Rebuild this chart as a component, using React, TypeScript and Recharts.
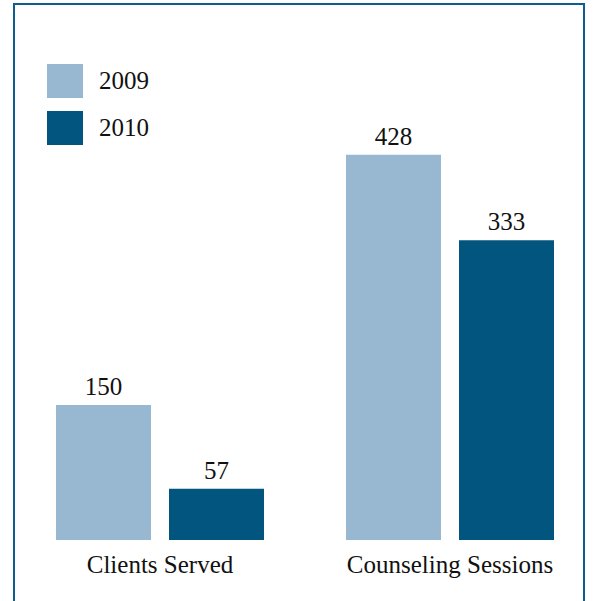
import { BarChart, Bar, XAxis, YAxis, Legend, LabelList } from "recharts";

const categories = ["Clients Served", "Counseling Sessions"];
const values2009 = [150, 428];
const values2010 = [57, 333];
const seriesNames = ["2009", "2010"];

const data = categories.map((name, i) => ({
    name,
    y2009: values2009[i],
    y2010: values2010[i]
}));

const LIGHT = "#98b7d1";
const DARK = "#02557f";
const FONT = "\"Liberation Serif\", \"DejaVu Serif\", serif";

function LegendBox(props: any) {
    const items = props.payload || [];
    return (
        <div style={{ display: "flex", flexDirection: "column", gap: 13 }}>
            {items.map((item: any) => (
                <div key={item.value} style={{ display: "flex", alignItems: "center", height: 34 }}>
                    <div style={{ width: 36, height: 34, background: item.color }} />
                    <span style={{ marginLeft: 16, fontFamily: FONT, fontSize: 25, color: "#111" }}>{item.value}</span>
                </div>
            ))}
        </div>
    );
}

export default function App() {
    return (
        <div style={{ position: "absolute", left: 0, top: 0, width: 593, height: 601, overflow: "hidden", background: "#fff" }}>
            <div
                style={{
                    position: "absolute",
                    left: 13,
                    top: 3,
                    width: 568,
                    height: 640,
                    border: "2px solid #0d5e8e"
                }}
            />
            <div style={{ position: "absolute", left: 0, top: 0 }}>
                <BarChart
                    width={600}
                    height={601}
                    data={data}
                    margin={{ top: 90, right: 5, left: 15, bottom: 31 }}
                    barCategoryGap={41}
                    barGap={18}
                >
                    <XAxis
                        dataKey="name"
                        axisLine={false}
                        tickLine={false}
                        tickSize={0}
                        tickMargin={15}
                        interval={0}
                        tick={{ fontFamily: FONT, fontSize: 25, fill: "#111" }}
                    />
                    <YAxis hide domain={[0, 500]} />
                    <Legend
                        layout="horizontal"
                        verticalAlign="middle"
                        align="center"
                        content={<LegendBox />}
                        wrapperStyle={{ position: "absolute", left: 47, top: 64, width: 200 }}
                    />
                    <Bar dataKey="y2009" name={seriesNames[0]} fill={LIGHT} barSize={95} isAnimationActive={false}>
                        <LabelList dataKey="y2009" position="top" offset={10} style={{ fontFamily: FONT, fontSize: 25, fill: "#111" }} />
                    </Bar>
                    <Bar dataKey="y2010" name={seriesNames[1]} fill={DARK} barSize={95} isAnimationActive={false}>
                        <LabelList dataKey="y2010" position="top" offset={10} style={{ fontFamily: FONT, fontSize: 25, fill: "#111" }} />
                    </Bar>
                </BarChart>
            </div>
        </div>
    );
}
